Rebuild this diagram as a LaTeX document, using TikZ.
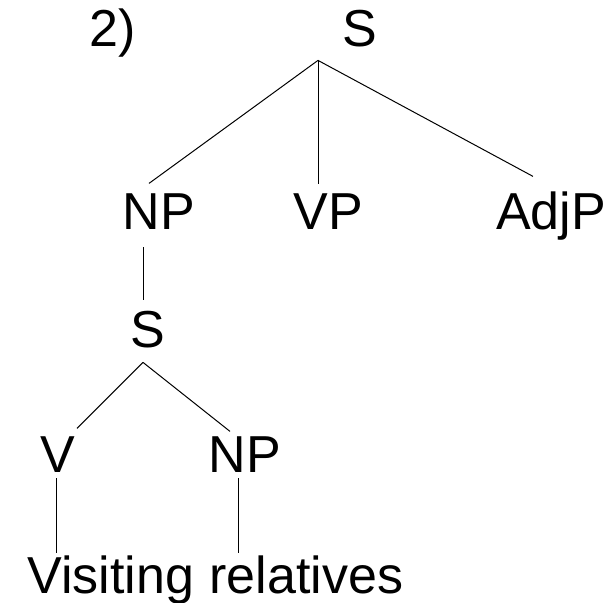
\documentclass[tikz,border=0pt]{standalone}
\usepackage{fontspec}
\setmainfont{Liberation Sans}

\tikzstyle{cat} = [anchor=base, inner sep=0mm,
                   text height=18.6pt, text depth=0pt,
                   font=\fontsize{26}{31}\selectfont]
\tikzstyle{branch} = [line width=0.5pt, black]

\begin{document}
\begin{tikzpicture}[x=0.5pt,y=-0.5pt]
\useasboundingbox (0,0) rectangle (615,603);

\node[cat] at (113,47) (num) {2)};
\node[cat] at (360,47) (S1) {S};

\node[cat] at (159,230) (NP1) {NP};
\node[cat] at (328,230) (VP) {VP};
\node[cat] at (551,230) (AdjP) {AdjP};

\node[cat] at (148,348) (S2) {S};

\node[cat] at (58,473) (V) {V};
\node[cat] at (245,473) (NP2) {NP};

\node[cat,anchor=base west] at (27,593) (vis) {Visiting};
\node[cat,anchor=base west] at (209,593) (rel) {relatives};

\coordinate (top1) at ([shift={(-42,13)}]S1.south);
\draw[branch] (top1) -- ([shift={(-10,-9)}]NP1.north);
\draw[branch] (top1) -- ([shift={(-10,-8)}]VP.north);
\draw[branch] (top1) -- ([shift={(-18,-16)}]AdjP.north);

\draw[branch] ([shift={(-16,17)}]NP1.south)
     -- ([shift={(-5,-10)}]S2.north);

\coordinate (top2) at ([shift={(-5,14)}]S2.south);
\draw[branch] (top2) -- ([shift={(19,-7)}]V.north);
\draw[branch] (top2) -- ([shift={(-15,-4)}]NP2.north);

\draw[branch] ([shift={(-2,5)}]V.south)
     -- ([shift={(-2,-2)}]V.south |- vis.north);
\draw[branch] ([shift={(-7,5)}]NP2.south)
     -- ([shift={(-7,-2)}]NP2.south |- rel.north);

\end{tikzpicture}
\end{document}
